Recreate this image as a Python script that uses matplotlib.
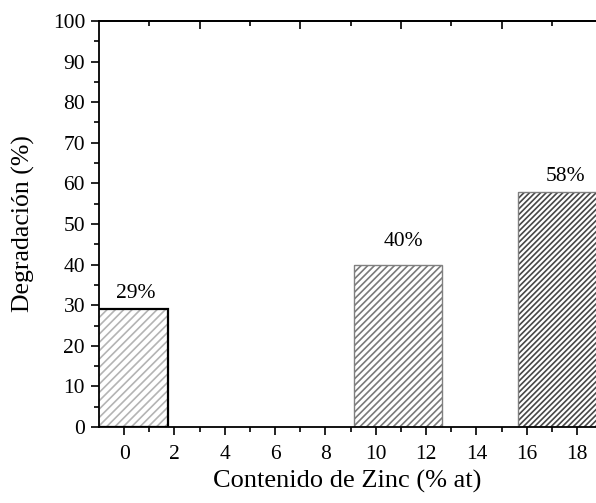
import matplotlib
matplotlib.use("Agg")
import matplotlib.pyplot as plt

# zinc content (% at) and degradation (%)
zinc = [0, 10.9, 17.4]
degradacion = [29, 40, 58]
etiquetas = ["29%", "40%", "58%"]

plt.rcParams['font.family'] = ['Liberation Serif', 'DejaVu Serif']
plt.rcParams['hatch.linewidth'] = 1.2

fig = plt.figure(figsize=(5.96, 5.03), dpi=100)
ax = fig.add_axes([99 / 596, 76 / 503, 497 / 596, 406 / 503])

hatch_col = ['#b4b4b4', '#7a7a7a', '#474747']
hatches = ['////', '/////', '//////']
edge_col = ['black', '#808080', '#808080']
edge_lw = [1.6, 1.0, 1.0]
ancho = 3.5

for xi, yi, hc, h, ec, lw in zip(zinc, degradacion, hatch_col, hatches, edge_col, edge_lw):
    ax.bar(xi, yi, width=ancho, color='white', edgecolor=hc, hatch=h, linewidth=0)
    ax.bar(xi, yi, width=ancho, fill=False, edgecolor=ec, linewidth=lw)

# value labels
lab_x = [0.45, 11.1, 17.55]
lab_dy = [2.8, 4.5, 2.6]
for lx, yi, dy, t in zip(lab_x, degradacion, lab_dy, etiquetas):
    ax.text(lx, yi + dy, t, ha='center', va='baseline', fontsize=15.5)

ax.set_xlim(-1, 18.75)
ax.set_ylim(0, 100)
ax.set_xticks(range(0, 19, 2))
ax.set_xticks(range(1, 19, 2), minor=True)
ax.set_yticks(range(0, 101, 10))
ax.set_yticks(range(5, 100, 10), minor=True)
ax.tick_params(axis='both', which='major', direction='out', length=6, width=1.2,
               labelsize=15.5, pad=4)
ax.tick_params(axis='x', which='major', pad=7)
ax.tick_params(axis='both', which='minor', direction='out', length=3.5, width=1.2)
ax.spines['right'].set_visible(False)
for s in ['left', 'bottom', 'top']:
    ax.spines[s].set_linewidth(1.3)

# top axis with its own tick marks
top = ax.secondary_xaxis('top')
top.set_xticks([3, 7, 11, 15])
top.set_xticks([1, 5, 9, 13, 17], minor=True)
top.tick_params(which='major', direction='in', length=6, width=1.2, labeltop=False)
top.tick_params(which='minor', direction='in', length=3.5, width=1.2)
top.spines['top'].set_linewidth(1.3)

ax.set_xlabel('Contenido de Zinc (% at)', fontsize=19, labelpad=4)
ax.set_ylabel('Degradación (%)', fontsize=18.5, labelpad=13)

fig.savefig('out.png', dpi=100)
